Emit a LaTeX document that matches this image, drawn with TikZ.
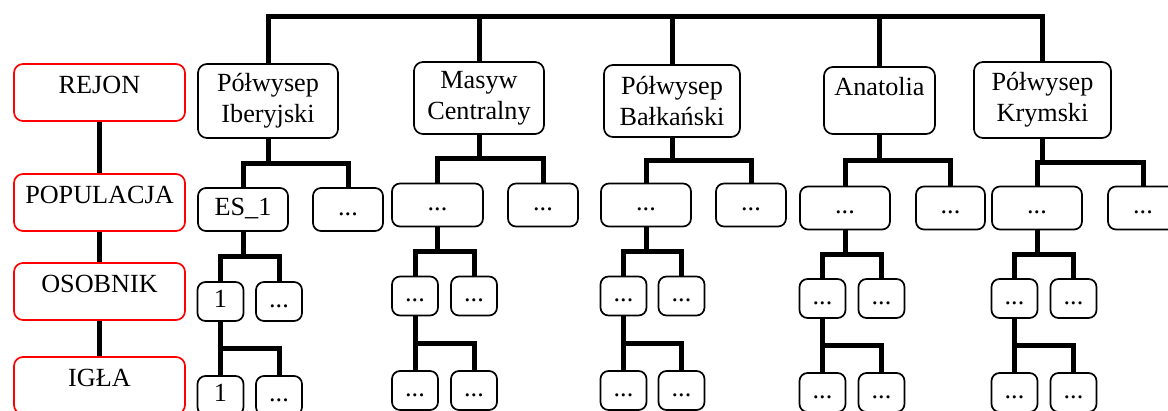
\documentclass[tikz,border=0pt]{standalone}
\usepackage{fontspec}
\setmainfont{Liberation Serif}
\usetikzlibrary{calc}

\begin{document}
\begin{tikzpicture}[
		x=1pt, y=-1pt,
		font=\fontsize{26.2}{31}\selectfont,
		levelbox/.style={
			rectangle,
			rounded corners=9pt,
			draw=red,
			line width=1.7pt,
			inner sep=0pt,
			minimum width=171pt,
			text height=29pt,
			text depth=28pt
		},
		regionbox/.style={
			rectangle,
			rounded corners=9pt,
			draw=black,
			line width=1.7pt,
			align=center,
			inner sep=0pt
		},
		popbox/.style={
			rectangle,
			rounded corners=8pt,
			draw=black,
			line width=1.7pt,
			inner sep=0pt,
			text height=18.3pt,
			text depth=6.5pt,
			minimum height=43pt
		},
		smallbox/.style={
			popbox,
			minimum width=46pt,
			minimum height=39pt
		},
		conn/.style={
			line width=5pt
		}
		]
		\useasboundingbox (0,0) rectangle (1168,410);
		\clip (0,0) rectangle (1168,410);
		
		% the levels on the left
		\node [levelbox] (rejon) at (99.5,92.5) {REJON};
		\node [levelbox] (populacja) at (99.5,202.5) {POPULACJA};
		\node [levelbox] (osobnik) at (99.5,291.5) {OSOBNIK};
		\node [levelbox] (igla) at (99.5,385.5) {IGŁA};
		
		% regions
		\node [regionbox, minimum width=140pt, minimum height=74pt] (reg1) at (268,101) {Półwysep\\Iberyjski};
		\node [regionbox, minimum width=130pt, minimum height=72pt] (reg2) at (479,98) {Masyw\\Centralny};
		\node [regionbox, minimum width=136pt, minimum height=72pt] (reg3) at (672,101) {Półwysep\\Bałkański};
		\node [regionbox, minimum width=111pt, text height=28pt, text depth=39pt] (reg4) at (879.5,100.5) {Anatolia};
		\node [regionbox, minimum width=137pt, minimum height=76pt] (reg5) at (1042.5,100) {Półwysep\\Krymski};
		
		% populations
		\node [popbox, minimum width=90pt] (pop1) at (243,209.5) {ES\_1};
		\node [popbox, minimum width=70pt] (popx1) at (348,209.5) {...};
		\node [popbox, minimum width=91pt] (pop2) at (437.5,205) {...};
		\node [popbox, minimum width=70pt] (popx2) at (543,205) {...};
		\node [popbox, minimum width=90pt] (pop3) at (646,205) {...};
		\node [popbox, minimum width=70pt] (popx3) at (751,205) {...};
		\node [popbox, minimum width=90pt] (pop4) at (845,208) {...};
		\node [popbox, minimum width=69pt] (popx4) at (950.5,208) {...};
		\node [popbox, minimum width=90pt] (pop5) at (1037,208) {...};
		\node [popbox, minimum width=70pt] (popx5) at (1143,208) {...};
		
		% individuals
		\node [smallbox] (ind1) at (220.5,301.5) {1};
		\node [smallbox] (indx1) at (279,301.5) {...};
		\node [smallbox] (ind2) at (415,296) {...};
		\node [smallbox] (indx2) at (474,296) {...};
		\node [smallbox] (ind3) at (623.5,296) {...};
		\node [smallbox] (indx3) at (681.5,296) {...};
		\node [smallbox] (ind4) at (822.5,298.5) {...};
		\node [smallbox] (indx4) at (881.5,298.5) {...};
		\node [smallbox] (ind5) at (1014.5,298.5) {...};
		\node [smallbox] (indx5) at (1073.5,298.5) {...};
		
		% needles
		\node [smallbox] (ned1) at (220.5,395.5) {1};
		\node [smallbox] (nedx1) at (279,395.5) {...};
		\node [smallbox] (ned2) at (415,390.5) {...};
		\node [smallbox] (nedx2) at (474,390.5) {...};
		\node [smallbox] (ned3) at (623.5,390.5) {...};
		\node [smallbox] (nedx3) at (681.5,390.5) {...};
		\node [smallbox] (ned4) at (822.5,392.5) {...};
		\node [smallbox] (nedx4) at (881.5,392.5) {...};
		\node [smallbox] (ned5) at (1014.5,392.5) {...};
		\node [smallbox] (nedx5) at (1073.5,392.5) {...};
		
		% connections
		\draw [conn] (rejon) -- (populacja) -- (osobnik) -- (igla);
		
		\coordinate (top) at (477,16);
		\draw [conn] (reg1.north) |- (top) -| (reg5.north);
		\foreach \t in {2,3,4}
			\draw [conn] (reg\t.north) -- (reg\t.north |- top);
		
		\foreach \t in {1,...,5}{
			\draw [conn] (reg\t.south) -- ($(reg\t.south)!.5!(reg\t.south |- pop\t.north)$) coordinate (k);
			\draw [conn] (pop\t.north) |- (k) -| (popx\t.north);
			\draw [conn] (pop\t.south) -- ($(pop\t.south)!.5!(pop\t.south |- ind\t.north)$) coordinate (k);
			\draw [conn] (ind\t.north) |- (k) -| (indx\t.north);
			\draw [conn] (ind\t.south) -- (ned\t.north);
			\draw [conn] ($(ind\t.south)!.5!(ned\t.north)$) -| (nedx\t.north);
		}
		
		\end{tikzpicture}
\end{document}
